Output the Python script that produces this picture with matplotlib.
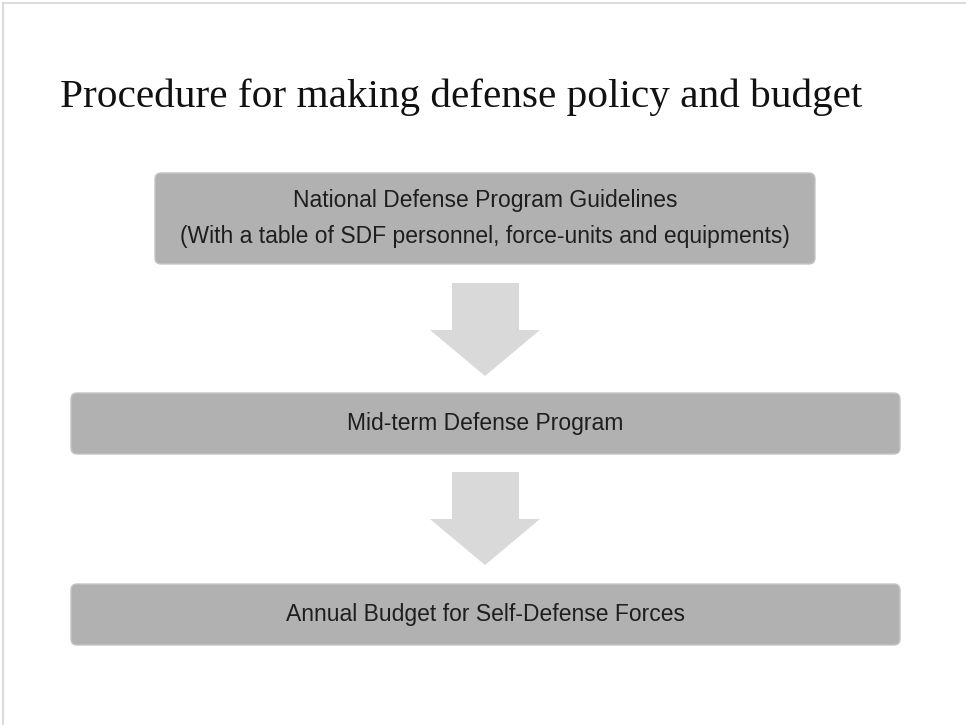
import matplotlib.pyplot as plt
import matplotlib.patches as patches

title = "Procedure for making defense policy and budget"
box_labels = [
    "National Defense Program Guidelines\n(With a table of SDF personnel, force-units and equipments)",
    "Mid-term Defense Program",
    "Annual Budget for Self-Defense Forces",
]

# box geometry in pixels: left, top, right, bottom
boxes = [(155, 173, 815, 264), (71, 393, 900, 454), (71, 584, 900, 645)]
# arrows: shaft top, head top, tip
arrows = [(283, 330, 376), (472, 519, 565)]

fig = plt.figure(figsize=(9.66, 7.25), dpi=100)
ax = fig.add_axes([0, 0, 1, 1])
ax.set_xlim(0, 966)
ax.set_ylim(725, 0)
ax.axis('off')

# slide border
ax.plot([3, 966], [3, 3], color='#d4d4d4', lw=1.2)
ax.plot([3, 3], [3, 725], color='#d4d4d4', lw=1.2)

ax.text(60, 107, title, fontsize=29.7, family='Liberation Serif', color='#111111',
        ha='left', va='baseline')

for (l, t, r, b), lab in zip(boxes, box_labels):
    p = patches.FancyBboxPatch((l, t), r - l, b - t, boxstyle='round,pad=0,rounding_size=6',
                               facecolor='#b0b1b0', edgecolor='#c4c5c4', lw=1)
    ax.add_patch(p)
    ax.text((l + r) / 2, (t + b) / 2, lab, fontsize=16.5, family='Liberation Sans',
            color='#1e1e1e', ha='center', va='center', linespacing=1.7)

cx = 485
for st, ht, tip in arrows:
    pts = [(cx - 33, st), (cx + 34, st), (cx + 34, ht), (cx + 55, ht), (cx, tip),
           (cx - 55, ht), (cx - 33, ht)]
    ax.add_patch(patches.Polygon(pts, closed=True, facecolor='#d9d9d9', edgecolor='none'))

fig.savefig('out.png', dpi=100)
